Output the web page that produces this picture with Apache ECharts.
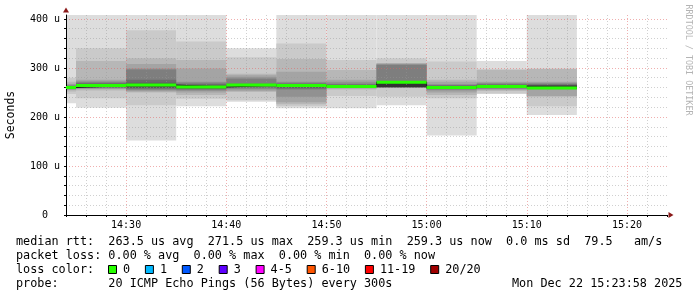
<!DOCTYPE html>
<html><head><meta charset="utf-8">
<script src="https://cdn.jsdelivr.net/npm/echarts@6/dist/echarts.min.js"></script>
<style>html,body{margin:0;padding:0;background:#fff}#c{width:697px;height:297px}</style>
</head><body><div id="c"></div>
<script>
// ---- data ----
const segStarts = ['14:20','14:25','14:30','14:35','14:40','14:45','14:50','14:55','15:00','15:05','15:10'];
const stepMinutes = 5;
const medians = [260, 264, 265, 261, 265, 264, 262, 271, 260, 262, 259];
const pings = [
  [228,247,252,255,256,257,258,258.5,259,259.5, 260.5,261,262,263,264,266,268,272,280,430],
  [219,238,254,257,258,259,260,261,262,263, 265,266,267,269,271,273,276,314,340,430],
  [152,224,250,252,254,256,258,259,261,263, 265,267,270,276,297,299,308,320,377,430],
  [222,237,245,250,253,255,257,258,259,260, 262,263,265,267,270,272,299,316,354,430],
  [231,234,251,253,256,258,260,262,263,264, 265,266,267,268,278,281,285,288,322,340],
  [218,222,226,230,241,256,258,260,262,263, 264,265,266,268,270,272,292,318,350,430],
  [218,243,256,258,259,260,261,261.5,262,262.5, 263,264,265,266,268,272,276,296,316,430],
  [224,241,259,259.5,260,260.3,260.6,260.8,261,261.2, 269,270,272,273,306,308,309,310,320,430],
  [162,238,245,250,254,256,257,258,259,260, 261,262,263,264,265,267,272,276,313,430],
  [247,248,253,255,257,258,259,260,261,262, 263,264,265,266,268,270,272,296,298,314],
  [204,222,241,243,256,257,258,259,260,261, 263,264,265,266,268,270,272,298,299,430]
];
const xTickLabels = ['14:30','14:40','14:50','15:00','15:10','15:20'];
const yTickLabels = ['0','100 u','200 u','300 u','400 u'];
const legendLines = [
  'median rtt:  263.5 us avg  271.5 us max  259.3 us min  259.3 us now  0.0 ms sd  79.5   am/s',
  'packet loss: 0.00 % avg  0.00 % max  0.00 % min  0.00 % now',
  'loss color:',
  'probe:       20 ICMP Echo Pings (56 Bytes) every 300s'
];
const dateText = 'Mon Dec 22 15:23:58 2025';
const lossLabels = ['0','1','2','3','4-5','6-10','11-19','20/20'];
const lossColors = ['#26ff00','#00b8ff','#0059ff','#5e00ff','#ff00ff','#ff5500','#ff0000','#a00000'];
const yTitle = 'Seconds';
const watermark = 'RRDTOOL / TOBI OETIKER';

// ---- build ----
const toMin = s => { const [h, m] = s.split(':').map(Number); return (h - 14) * 60 + m; };
const fmtMin = v => { const h = 14 + Math.floor(v / 60), m = v % 60; return h + ':' + String(m).padStart(2, '0'); };
const X_MIN = 24, X_MAX = 84, Y_MAX = 408;
const MONO = '"DejaVu Sans Mono", monospace';

const smokeData = [];
const medData = [];
const stepLine = [];
segStarts.forEach((s, i) => {
  const x0 = toMin(s), x1 = x0 + stepMinutes;
  const p = pings[i];
  for (let b = 1; b <= 10; b++) smokeData.push([x0, x1, p[b - 1], p[20 - b], b]);
  medData.push([x0, x1, medians[i]]);
  stepLine.push([x0, medians[i]]);
  if (i === segStarts.length - 1) stepLine.push([x1, medians[i]]);
});
const shade = b => { const c = Math.floor(190 / 10 * (10 - b)) + 50; return 'rgb(' + c + ',' + c + ',' + c + ')'; };

const MINOR = 'rgba(150,150,150,0.45)', MAJOR = 'rgba(225,95,95,0.5)';
const xColors = [];
for (let v = X_MIN; v <= X_MAX; v += 2) xColors.push(v === X_MAX ? 'rgba(0,0,0,0)' : (v % 10 === 0 ? MAJOR : MINOR));
const yColors = [];
for (let v = 0; v <= 400; v += 20) yColors.push(v % 100 === 0 ? MAJOR : MINOR);
yColors.push('rgba(0,0,0,0)');

const graphics = [];
const LINE_Y = [241.5, 255.5, 269.5, 283.5];
const CH = 7.1, X0 = 16, FS = 11.8;
legendLines.forEach((t, i) => graphics.push({type:'text', x:X0, y:LINE_Y[i], style:{text:t, font: FS + 'px ' + MONO, fill:'#000', verticalAlign:'middle', textVerticalAlign:'middle'}}));
graphics.push({type:'text', x:512, y:LINE_Y[3], style:{text:dateText, font: FS + 'px ' + MONO, fill:'#000', verticalAlign:'middle', textVerticalAlign:'middle'}});
let bx = 108;
lossLabels.forEach((lab, i) => {
  graphics.push({type:'rect', shape:{x:bx + 0.5, y:LINE_Y[2] - 4, width:8, height:8}, style:{fill:lossColors[i], stroke:'#000', lineWidth:1}});
  const lx = bx + 15;
  graphics.push({type:'text', x:lx, y:LINE_Y[2], style:{text:lab, font: FS + 'px ' + MONO, fill:'#000', verticalAlign:'middle', textVerticalAlign:'middle'}});
  bx = lx + lab.length * CH + 14.8;
});
graphics.push({type:'text', x:688, y:60, rotation:-Math.PI / 2, style:{text:watermark, font:'8.4px ' + MONO, fill:'#b4b4b4', align:'center', textAlign:'center', verticalAlign:'middle', textVerticalAlign:'middle'}});

const chart = echarts.init(document.getElementById('c'), null, {renderer:'canvas'});
chart.setOption({
  animation:false,
  backgroundColor:'#fff',
  grid:{left:66, right:30, top:15, bottom:82, containLabel:false, outerBoundsMode:'none'},
  xAxis:[{
    type:'value', min:X_MIN, max:X_MAX, interval:2, z:2,
    axisLine:{lineStyle:{color:'#000', width:1}},
    axisTick:{show:true, length:2, lineStyle:{color:'#000'}},
    axisLabel:{margin:5, color:'#000', fontFamily:MONO, fontSize:10,
      formatter: v => { if (v % 10 !== 0) return ''; const t = fmtMin(v); return xTickLabels.includes(t) ? t : ''; }},
    splitLine:{show:true, lineStyle:{color:xColors, type:[1,2], width:1}}
  },{
    type:'value', min:X_MIN, max:X_MAX, position:'bottom', z:2,
    axisLine:{show:true, lineStyle:{color:'#8b1a1a', width:0}, symbol:['none','triangle'], symbolSize:[6,5], symbolOffset:[0,4]},
    axisTick:{show:false}, axisLabel:{show:false}, splitLine:{show:false}
  }],
  yAxis:[{
    type:'value', min:0, max:Y_MAX, interval:20, z:2,
    name:yTitle, nameLocation:'middle', nameRotate:90, nameGap:49,
    nameTextStyle:{fontFamily:MONO, fontSize:11.5, color:'#000'},
    axisLine:{show:true, lineStyle:{color:'#000', width:1}},
    axisTick:{show:true, length:2, lineStyle:{color:'#000'}},
    axisLabel:{margin:6, color:'#000', fontFamily:MONO, fontSize:10, showMaxLabel:false,
      formatter: v => { if (v % 100 !== 0 || v > 400) return ''; const t = yTickLabels[v / 100]; return t.indexOf(' ') >= 0 ? t : t + '  '; }},
    splitLine:{show:true, lineStyle:{color:yColors, type:[1,2], width:1}}
  },{
    type:'value', min:0, max:Y_MAX, position:'left', z:2,
    axisLine:{show:true, lineStyle:{color:'#8b1a1a', width:0}, symbol:['none','triangle'], symbolSize:[6,5], symbolOffset:[0,5]},
    axisTick:{show:false}, axisLabel:{show:false}, splitLine:{show:false}
  }],
  series:[{
    type:'custom', z:1, clip:true, data:smokeData, encode:{x:[0,1], y:[2,3]},
    renderItem:(params, api) => {
      const p0 = api.coord([api.value(0), api.value(3)]);
      const p1 = api.coord([api.value(1), api.value(2)]);
      const b = api.value(4);
      return {type:'rect', z2:b, shape:{x:p0[0], y:p0[1], width:p1[0] - p0[0], height:p1[1] - p0[1]}, style:{fill:shade(b)}};
    }
  },{
    type:'line', z:3, data:stepLine, step:'end', symbol:'none', clip:true,
    lineStyle:{color:'#202020', width:1}
  },{
    type:'custom', z:4, clip:true, data:medData, encode:{x:[0,1], y:2},
    renderItem:(params, api) => {
      const p0 = api.coord([api.value(0), api.value(2)]);
      const p1 = api.coord([api.value(1), api.value(2)]);
      return {type:'rect', shape:{x:p0[0], y:p0[1] - 1.5, width:p1[0] - p0[0], height:3}, style:{fill:lossColors[0]}};
    }
  }],
  graphic:graphics
});
</script></body></html>
